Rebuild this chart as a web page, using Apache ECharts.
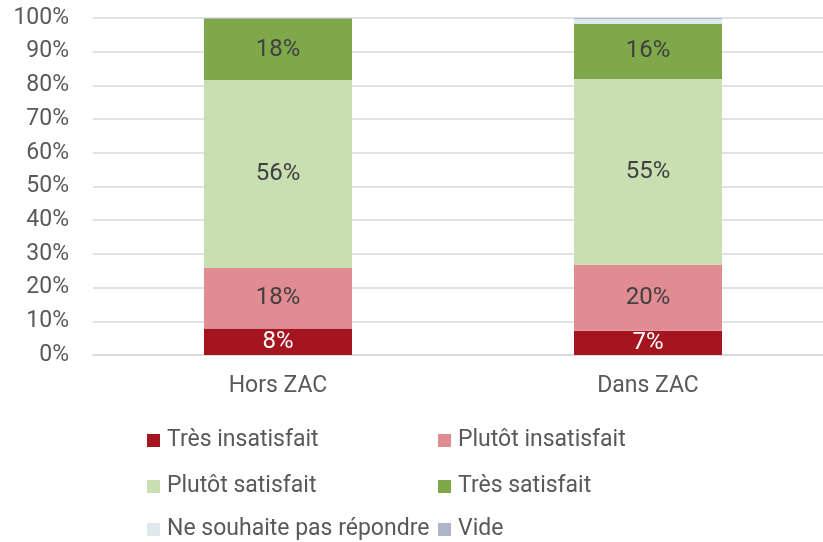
<!DOCTYPE html>
<html>
<head>
<meta charset="utf-8">
<script src="https://cdn.jsdelivr.net/npm/echarts@6/dist/echarts.min.js"></script>
<style>
  html, body { margin: 0; padding: 0; background: #fff; }
  #chart { width: 823px; height: 542px; }
</style>
</head>
<body>
<div id="chart"></div>
<script>
// categories and series values (%)
var categories = ['Hors ZAC', 'Dans ZAC'];
var seriesNames = ['Très insatisfait', 'Plutôt insatisfait', 'Plutôt satisfait', 'Très satisfait', 'Ne souhaite pas répondre', 'Vide'];
var tresInsatisfait = [7.9, 7.2];
var plutotInsatisfait = [17.9, 19.6];
var plutotSatisfait = [55.8, 55.1];
var tresSatisfait = [18.1, 16.4];
var neSouhaitePas = [0, 1.4];
var vide = [0.3, 0.3];
var colors = ['#A51520', '#E08C92', '#C9DFB1', '#7EA84A', '#DEE9EE', '#ADB5C9'];

var font = 'Roboto';
var textColor = '#595959';

var chart = echarts.init(document.getElementById('chart'));

function mkSeries(name, data, color, showLabel, labelColor) {
  return {
    name: name,
    type: 'bar',
    stack: 'total',
    data: data,
    barWidth: '40%',
    itemStyle: { color: color },
    label: {
      show: showLabel,
      position: 'inside',
      color: labelColor,
      fontFamily: font,
      fontSize: 24,
      formatter: function (p) { return Math.round(p.value) + '%'; }
    }
  };
}

// one legend per item to get the 2-column layout
var legendPos = [
  [142, 424], [433, 424],
  [142, 470], [433, 470],
  [142, 513], [433, 513]
];
var legends = seriesNames.map(function (n, i) {
  return {
    data: [n],
    left: legendPos[i][0],
    top: legendPos[i][1],
    icon: 'rect',
    itemWidth: 13,
    itemHeight: 13,
    itemGap: 0,
    textStyle: { fontFamily: font, fontSize: 23, color: textColor, padding: [0, 0, 0, 2] }
  };
});

chart.setOption({
  animation: false,
  color: colors,
  grid: { left: 93, width: 740, top: 18, bottom: 187, outerBoundsMode: 'none', containLabel: false },
  legend: legends,
  xAxis: {
    type: 'category',
    data: categories,
    axisLine: { lineStyle: { color: '#D9D9D9', width: 1.5 } },
    axisTick: { show: false },
    axisLabel: { fontFamily: font, fontSize: 23, color: textColor, margin: 20 }
  },
  yAxis: {
    type: 'value',
    min: 0,
    max: 100,
    interval: 10,
    axisLine: { show: false },
    axisTick: { show: false },
    splitLine: { lineStyle: { color: '#D9D9D9', width: 1.5 } },
    axisLabel: { fontFamily: font, fontSize: 23, color: textColor, margin: 24, formatter: '{value}%' }
  },
  series: [
    mkSeries(seriesNames[0], tresInsatisfait, colors[0], true, '#FFFFFF'),
    mkSeries(seriesNames[1], plutotInsatisfait, colors[1], true, '#404040'),
    mkSeries(seriesNames[2], plutotSatisfait, colors[2], true, '#404040'),
    mkSeries(seriesNames[3], tresSatisfait, colors[3], true, '#404040'),
    mkSeries(seriesNames[4], neSouhaitePas, colors[4], false, '#404040'),
    mkSeries(seriesNames[5], vide, colors[5], false, '#404040')
  ]
});
</script>
</body>
</html>
